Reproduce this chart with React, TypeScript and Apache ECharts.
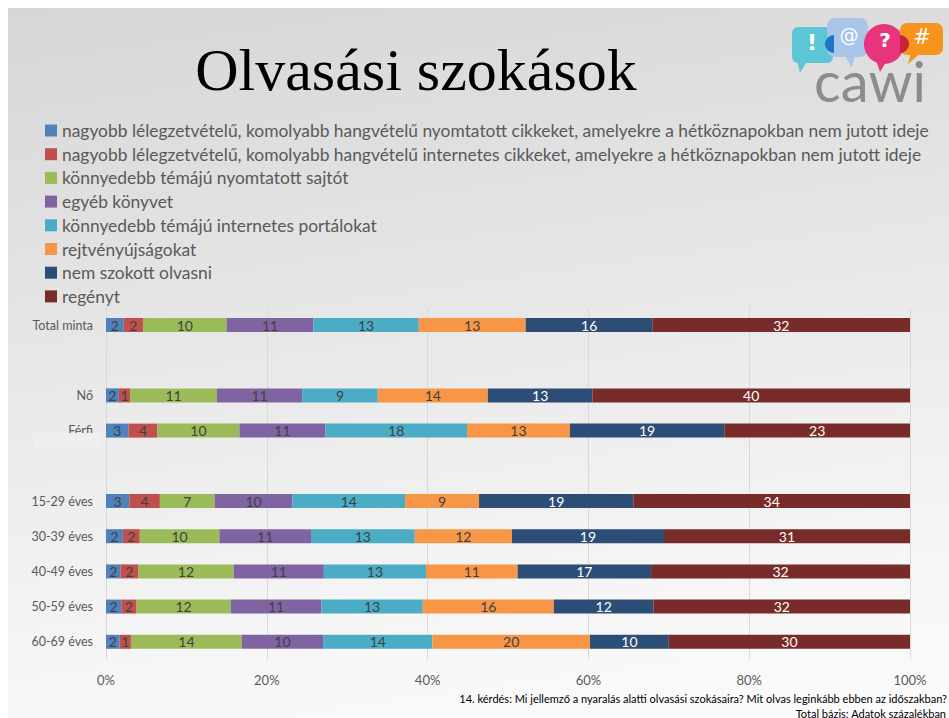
import React, { useEffect, useRef } from "react";
import * as echarts from "echarts";

const categories = ["Total minta", " ", "Nő", "Férfi", "  ", "15-29 éves", "30-39 éves", "40-49 éves", "50-59 éves", "60-69 éves"];

const seriesNames = [
  "nagyobb lélegzetvételű, komolyabb hangvételű nyomtatott cikkeket, amelyekre a hétköznapokban nem jutott ideje",
  "nagyobb lélegzetvételű, komolyabb hangvételű internetes cikkeket, amelyekre a hétköznapokban nem jutott ideje",
  "könnyedebb témájú nyomtatott sajtót",
  "egyéb könyvet",
  "könnyedebb témájú internetes portálokat",
  "rejtvényújságokat",
  "nem szokott olvasni",
  "regényt",
];

const printedLong = [2.2, null, 1.6, 2.8, null, 2.9, 2.1, 1.8, 1.9, 1.7];
const onlineLong = [2.4, null, 1.4, 3.6, null, 3.8, 2.1, 2.2, 1.9, 1.4];
const printedLight = [10.4, null, 10.8, 10.2, null, 6.8, 9.9, 11.9, 11.7, 13.8];
const otherBooks = [10.8, null, 10.6, 10.7, null, 9.7, 11.4, 11.2, 11.3, 10.1];
const onlinePortals = [13.1, null, 9.4, 17.6, null, 14.0, 12.9, 12.7, 12.6, 13.6];
const puzzles = [13.3, null, 13.7, 12.8, null, 9.2, 12.1, 11.4, 16.3, 19.6];
const notReading = [15.8, null, 13.0, 19.2, null, 19.2, 18.9, 16.6, 12.4, 9.8];
const novels = [32.0, null, 39.5, 23.1, null, 34.4, 30.6, 32.2, 31.9, 30.0];

const seriesData = [printedLong, onlineLong, printedLight, otherBooks, onlinePortals, puzzles, notReading, novels];
const colors = ["#4f81bd", "#c0504d", "#9bbb59", "#8064a2", "#4bacc6", "#f79646", "#2c4d75", "#772c2a"];
const labelColors = ["#404040", "#404040", "#404040", "#404040", "#404040", "#404040", "#ffffff", "#ffffff"];

const xTicks = [0, 20, 40, 60, 80, 100];

const FONT = "Lato";

export default function App() {
  const ref = useRef<HTMLDivElement>(null);
  useEffect(() => {
    document.body.style.margin = "0";
    if (!ref.current) return;
    const chart = echarts.init(ref.current, null, { renderer: "svg" });
    const option: any = {
      animation: false,
      legend: {
        orient: "vertical",
        left: 32,
        top: 109,
        itemWidth: 12,
        itemHeight: 12,
        itemGap: 6.7,
        icon: "rect",
        selectedMode: false,
        textStyle: { color: "#595959", fontSize: 17.4, fontFamily: FONT, lineHeight: 17 },
        data: seriesNames,
      },
      grid: { left: 98, right: 39, top: 299.4, height: 352, containLabel: false },
      xAxis: {
        type: "value",
        min: xTicks[0],
        max: xTicks[xTicks.length - 1],
        interval: 20,
        axisLine: { show: false },
        axisTick: { show: false },
        axisLabel: { formatter: "{value}%", color: "#595959", fontSize: 13, fontFamily: FONT, margin: 14 },
        splitLine: { lineStyle: { color: "#d9d9d9", width: 1 } },
      },
      yAxis: {
        type: "category",
        inverse: true,
        data: categories,
        axisLine: { show: false },
        axisTick: { show: false },
        axisLabel: { color: "#595959", fontSize: 12.5, fontFamily: FONT, margin: 13 },
      },
      series: seriesNames.map((name, i) => ({
        name,
        type: "bar",
        stack: "total",
        barWidth: 14,
        data: seriesData[i],
        itemStyle: { color: colors[i] },
        label: {
          show: true,
          position: "inside",
          color: labelColors[i],
          fontSize: 14,
          fontFamily: FONT,
          formatter: (p: any) => (p.value == null ? "" : String(Math.round(p.value))),
        },
      })),
      graphic: [
        {
          type: "text",
          x: 408,
          y: 62,
          style: {
            text: "Olvasási szokások",
            font: "60px 'Liberation Serif'",
            fill: "#000",
            textAlign: "center",
            textVerticalAlign: "middle",
          },
        },
        // logo
        { type: "rect", shape: { x: 784, y: 19, width: 41, height: 36, r: 6 }, style: { fill: "#5cc6d6" } },
        { type: "polygon", shape: { points: [[789, 52], [800, 52], [792, 65]] }, style: { fill: "#5cc6d6" } },
        { type: "rect", shape: { x: 819, y: 10, width: 41, height: 39, r: 8 }, style: { fill: "#a9c5ea" } },
        { type: "polygon", shape: { points: [[836, 46], [847, 46], [844, 60]] }, style: { fill: "#a9c5ea" } },
        { type: "sector", shape: { cx: 826, cy: 36, r0: 0, r: 9, startAngle: Math.PI / 2, endAngle: (3 * Math.PI) / 2 }, style: { fill: "#1e74c6" } },
        { type: "circle", shape: { cx: 876, cy: 36, r: 20 }, style: { fill: "#e8347c" } },
        { type: "polygon", shape: { points: [[868, 52], [878, 54], [872, 64]] }, style: { fill: "#e8347c" } },
        { type: "rect", shape: { x: 892, y: 15, width: 43, height: 32, r: 7 }, style: { fill: "#f7941d" } },
        { type: "polygon", shape: { points: [[903, 44], [914, 44], [900, 56]] }, style: { fill: "#f7941d" } },
        { type: "sector", shape: { cx: 892, cy: 36, r0: 0, r: 9, startAngle: -Math.PI / 2, endAngle: Math.PI / 2 }, style: { fill: "#c8233a" } },
        { type: "text", x: 804, y: 34, style: { text: "!", font: "bold 22px 'DejaVu Sans'", fill: "#ffffff", textAlign: "center", textVerticalAlign: "middle" } },
        { type: "text", x: 841, y: 27, style: { text: "@", font: "19px 'DejaVu Sans'", fill: "#ffffff", textAlign: "center", textVerticalAlign: "middle" } },
        { type: "text", x: 877, y: 32, style: { text: "?", font: "bold 20px 'DejaVu Sans'", fill: "#ffffff", textAlign: "center", textVerticalAlign: "middle" } },
        { type: "text", x: 914, y: 29, style: { text: "#", font: "21px 'DejaVu Sans'", fill: "#ffffff", textAlign: "center", textVerticalAlign: "middle" } },
        { type: "text", x: 862, y: 100, style: { text: "cawi", font: "56px Lato", fill: "#8c8c8c", textAlign: "center", textVerticalAlign: "bottom" } },
        // overlay patch on Férfi label
        { type: "rect", shape: { x: 25, y: 425, width: 68, height: 16 }, style: { fill: "#efefef" }, z: 100 },
        // footnotes
        {
          type: "text",
          x: 939,
          y: 690,
          style: { text: "14. kérdés: Mi jellemző a nyaralás alatti olvasási szokásaira? Mit olvas leginkább ebben az időszakban?", font: "11px Lato", fill: "#000", textAlign: "right", textVerticalAlign: "middle" },
        },
        {
          type: "text",
          x: 938,
          y: 705,
          style: { text: "Total bázis; Adatok százalékban", font: "11px Lato", fill: "#000", textAlign: "right", textVerticalAlign: "middle" },
        },
      ],
    };
    chart.setOption(option);
    return () => chart.dispose();
  }, []);
  return (
    <div style={{ width: 949, height: 718, background: "#ffffff", paddingTop: 8, paddingLeft: 8, boxSizing: "border-box", overflow: "hidden" }}>
      <div
        ref={ref}
        style={{
          width: 941,
          height: 710,
          background: "linear-gradient(172deg, #d6d6d6 0%, #e6e6e6 40%, #f6f6f6 80%, #fbfbfb 100%)",
        }}
      />
    </div>
  );
}
